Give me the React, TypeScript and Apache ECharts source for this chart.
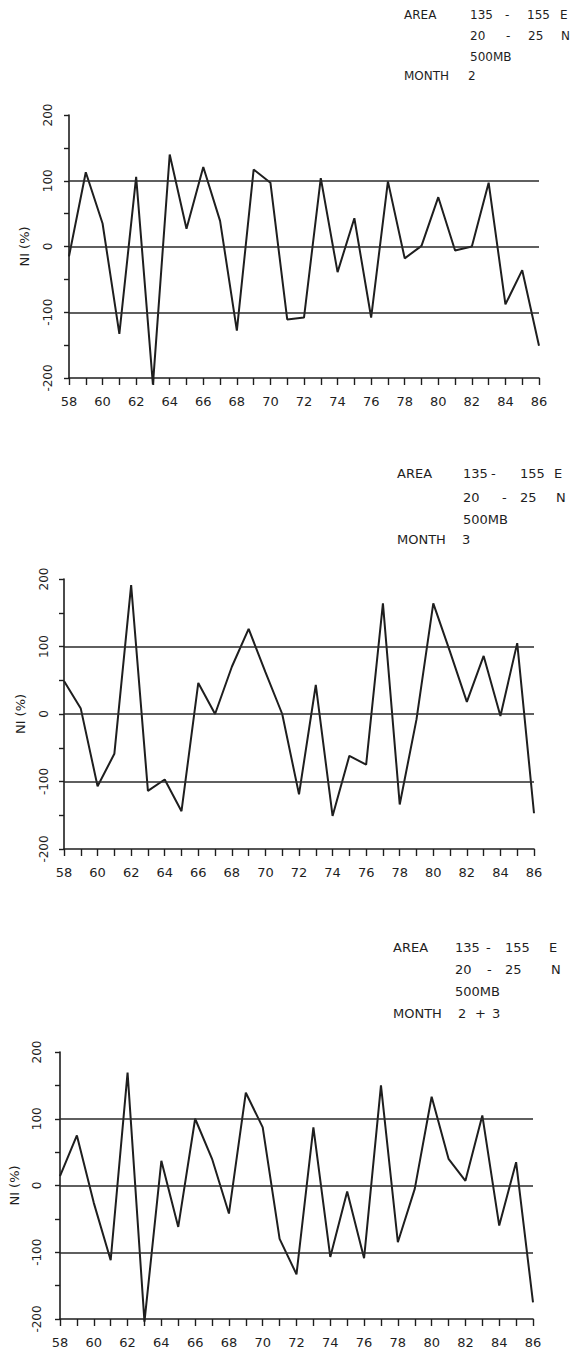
import React, { useEffect, useRef } from "react";
import * as echarts from "echarts";

const years = [58, 59, 60, 61, 62, 63, 64, 65, 66, 67, 68, 69, 70, 71, 72, 73, 74, 75, 76, 77, 78, 79, 80, 81, 82, 83, 84, 85, 86];
const month2 = [-15, 113, 35, -133, 106, -210, 140, 27, 121, 39, -128, 117, 97, -111, -108, 104, -39, 43, -108, 99, -18, 1, 75, -6, 0, 97, -88, -36, -151];
const month3 = [49, 8, -107, -59, 191, -114, -97, -144, 46, 0, 70, 126, 62, 0, -119, 43, -151, -62, -75, 164, -134, -8, 164, 92, 18, 86, -3, 105, -147];
const month23 = [14, 75, -26, -112, 169, -204, 37, -62, 100, 40, -42, 139, 87, -80, -133, 87, -107, -9, -109, 150, -85, -5, 133, 40, 7, 105, -60, 35, -175];
const refLevels = [100, 0, -100];
const yLabelValues = [-200, -100, 0, 100, 200];
const xLabelYears = [58, 60, 62, 64, 66, 68, 70, 72, 74, 76, 78, 80, 82, 84, 86];
const areaWord = "AREA";
const lonTokens = ["135", "-", "155", "E"];
const latTokens = ["20", "-", "25", "N"];
const levelText = "500MB";
const monthWord = "MONTH";
const monthTokens = [["2"], ["3"], ["2", "+", "3"]];
const yAxisName = "NI (%)";

const INK = "#1e1e1e";
const FONT = "DejaVu Sans";

export default function App() {
  const ref = useRef<HTMLDivElement>(null);
  useEffect(() => {
    document.body.style.margin = "0";
    if (!ref.current) return;
    const chart = echarts.init(ref.current, null, { renderer: "svg" });

    const panels = [
      { data: month2, left: 69, top: 115, width: 470, height: 263, yLab: 15, nameGap: 38 },
      { data: month3, left: 64, top: 579, width: 470, height: 270, yLab: 14, nameGap: 37 },
      { data: month23, left: 59, top: 1052, width: 474, height: 267, yLab: 17, nameGap: 39 },
    ];

    const grid = panels.map((p) => ({ left: p.left, top: p.top, width: p.width, height: p.height, containLabel: false }));
    const xAxis = panels.map((p, i) => ({
      type: "value",
      gridIndex: i,
      min: 58,
      max: 86,
      interval: 1,
      axisLine: { show: true, onZero: false, lineStyle: { color: INK, width: 1.6 } },
      axisTick: { show: true, inside: false, length: 7, lineStyle: { color: INK, width: 1.4 } },
      axisLabel: {
        show: true,
        margin: 17,
        color: INK,
        fontFamily: FONT,
        fontSize: 13,
        formatter: (v: number) => (xLabelYears.includes(v) ? String(v) : ""),
      },
      splitLine: { show: false },
    }));
    const yAxis = panels.map((p, i) => ({
      type: "value",
      gridIndex: i,
      min: -200,
      max: 200,
      interval: 50,
      name: yAxisName,
      nameLocation: "middle",
      nameGap: p.nameGap,
      nameRotate: 90,
      nameTextStyle: { color: INK, fontFamily: FONT, fontSize: 13 },
      axisLine: { show: true, onZero: false, lineStyle: { color: INK, width: 1.6 } },
      axisTick: { show: true, length: 5, lineStyle: { color: INK, width: 1.4 } },
      axisLabel: {
        show: true,
        rotate: 90,
        margin: p.yLab,
        color: INK,
        fontFamily: FONT,
        fontSize: 12,
        formatter: (v: number) => (yLabelValues.includes(v) ? String(v) : ""),
      },
      splitLine: { show: false },
    }));
    const series = panels.map((p, i) => ({
      type: "line",
      xAxisIndex: i,
      yAxisIndex: i,
      data: years.map((y, k) => [y, p.data[k]]),
      showSymbol: false,
      symbol: "none",
      clip: false,
      lineStyle: { color: INK, width: 2 },
      markLine: {
        silent: true,
        symbol: ["none", "none"],
        label: { show: false },
        lineStyle: { type: "solid", color: "#2a2a2a", width: 1.5 },
        data: refLevels.map((v) => ({ yAxis: v })),
      },
    }));

    const txt = (x: number, y: number, text: string, size = 13) => ({
      type: "text",
      x,
      y,
      style: { text, fill: INK, font: `${size}px "${FONT}"`, textVerticalAlign: "middle" },
    });

    // per header: ax = left column, lon/lat = x of tokens per line, rows = y of the 4 lines, mcols = x of month tokens
    const headers = [
      { ax: 404, lon: [470, 505, 527, 560], lat: [470, 506, 528, 561], rows: [15, 36, 57, 76], mcols: [468], size: 12 },
      { ax: 397, lon: [463, 491, 520, 554], lat: [463, 502, 520, 556], rows: [473, 497, 519, 539], mcols: [462], size: 13 },
      { ax: 393, lon: [455, 486, 505, 549], lat: [455, 487, 505, 551], rows: [947, 969, 991, 1013], mcols: [458, 475, 492], size: 13 },
    ];

    const graphic: any[] = [];
    headers.forEach((h, i) => {
      graphic.push(txt(h.ax, h.rows[0], areaWord, h.size));
      lonTokens.forEach((t, k) => graphic.push(txt(h.lon[k], h.rows[0], t, h.size)));
      latTokens.forEach((t, k) => graphic.push(txt(h.lat[k], h.rows[1], t, h.size)));
      graphic.push(txt(h.lon[0], h.rows[2], levelText, h.size));
      graphic.push(txt(h.ax, h.rows[3], monthWord, h.size));
      monthTokens[i].forEach((t, k) => graphic.push(txt(h.mcols[k], h.rows[3], t, h.size)));
    });

    chart.setOption({
      animation: false,
      backgroundColor: "#ffffff",
      grid,
      xAxis,
      yAxis,
      series,
      graphic,
    });
    return () => chart.dispose();
  }, []);
  return <div ref={ref} style={{ position: "absolute", left: 0, top: 0, width: 572, height: 1352 }} />;
}
